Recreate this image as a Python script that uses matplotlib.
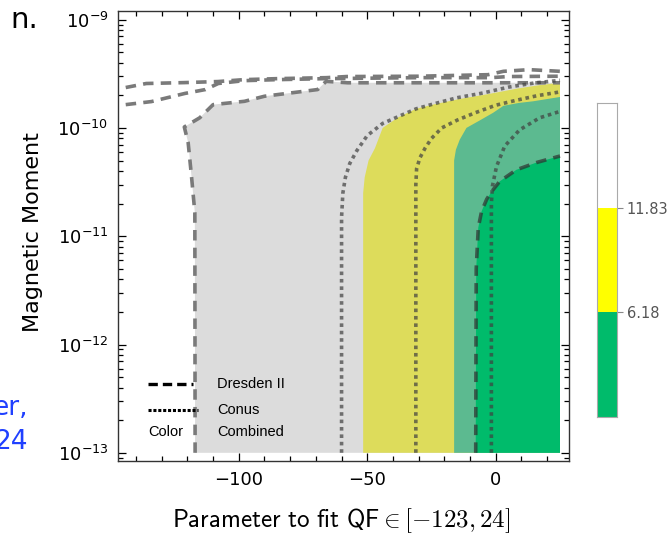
import numpy as np
import matplotlib
matplotlib.use("Agg")
import matplotlib.pyplot as plt
from matplotlib.ticker import MultipleLocator, LogLocator, NullFormatter

# shared range of the scan
x_max = 25.0
y_min = 1e-13

# filled regions: left/top edge of each, from the bottom up to the right
gray_x = [-117.0, -117.1, -118.4, -119.7, -121.2, -115.2, -110.0, -97.8, -90.0, -69.3, -66.0, -57.6, 25.0]
gray_y = [1e-13, 1.65e-11, 3.57e-11, 7.3e-11, 1.02e-10, 1.24e-10, 1.64e-10, 1.76e-10, 1.96e-10, 2.26e-10, 2.69e-10, 2.61e-10, 2.61e-10]

yellow_x = [-51.6, -51.6, -51.0, -49.5, -47.0, -44.0, -38.0, -31.0, -24.0, -14.0, -3.0, 8.0, 17.0, 25.0]
yellow_y = [1e-13, 2.5e-11, 3.5e-11, 5e-11, 6.5e-11, 1.0e-10, 1.25e-10, 1.5e-10, 1.65e-10, 1.85e-10, 2.05e-10, 2.3e-10, 2.48e-10, 2.61e-10]

teal_x = [-16.2, -16.2, -15.5, -14.0, -11.4, -6.0, -1.0, 3.0, 9.0, 14.5, 25.0]
teal_y = [1e-13, 5e-11, 6.3e-11, 7.8e-11, 1e-10, 1.18e-10, 1.38e-10, 1.6e-10, 1.7e-10, 1.76e-10, 1.93e-10]

green_x = [-7.8, -7.6, -6.8, -5.5, -3.5, -1.5, 1.5, 8.0, 16.0, 25.0]
green_y = [1e-13, 5e-12, 1.2e-11, 1.7e-11, 2.2e-11, 2.6e-11, 3.2e-11, 4.1e-11, 4.8e-11, 5.5e-11]

# Dresden II dashed curves in the upper left
dres_a_x = [-144, -136, -121, -108, -98, -85, -66, -58, -30, -3, 3, 13, 25]
dres_a_y = [2.36e-10, 2.57e-10, 2.62e-10, 2.68e-10, 2.79e-10, 2.85e-10, 2.91e-10, 2.98e-10, 3.0e-10, 3.1e-10, 3.33e-10, 3.45e-10, 3.33e-10]
dres_b_x = [-144, -134, -121, -113, -108, -98, -85, -66, -30, -2, 5, 25]
dres_b_y = [1.64e-10, 1.75e-10, 2.08e-10, 2.26e-10, 2.57e-10, 2.73e-10, 2.79e-10, 2.85e-10, 2.91e-10, 2.91e-10, 2.98e-10, 3.0e-10]

# Conus dotted curves
conus1_x = [-60, -60, -59.5, -58.5, -56.8, -54, -50, -44, -37, -31, -24, -15, -5, 5, 15, 25]
conus1_y = [1e-13, 1.5e-11, 2.5e-11, 3.5e-11, 4.7e-11, 6.2e-11, 8.5e-11, 1.1e-10, 1.3e-10, 1.5e-10, 1.67e-10, 1.9e-10, 2.1e-10, 2.38e-10, 2.6e-10, 2.75e-10]
conus2_x = [-31.1, -31.1, -30.8, -29.5, -27.5, -25, -21, -15, -8, 0, 8, 16, 25]
conus2_y = [1e-13, 3e-11, 4.2e-11, 5.3e-11, 6.5e-11, 8e-11, 1.0e-10, 1.18e-10, 1.38e-10, 1.62e-10, 1.8e-10, 1.98e-10, 2.15e-10]
conus3_x = [-1.7, -1.7, -1.3, 0.3, 3.5, 9.3, 17.1, 25]
conus3_y = [1e-13, 2e-11, 2.9e-11, 4.4e-11, 6.8e-11, 9.6e-11, 1.24e-10, 1.42e-10]

# colour bar
cbar_levels = [6.18, 11.83]
cbar_colors = ["#00bb6b", "#ffff00", "#ffffff"]


def region(ax, xs, ys, color):
    px = list(xs) + [x_max]
    py = list(ys) + [y_min]
    ax.fill(px, py, color=color, lw=0, zorder=1)


fig = plt.figure(figsize=(6.69, 5.35), dpi=100)
ax = fig.add_axes([0.1764, 0.1383, 0.6741, 0.8411])

region(ax, gray_x, gray_y, "#dcdcdc")
region(ax, yellow_x, yellow_y, "#dddc5b")
region(ax, teal_x, teal_y, "#5cba90")
region(ax, green_x, green_y, "#00bb6b")

dash = (2.9, 2.0)
dot = (1.0, 1.05)
lw = 2.6
ax.plot(dres_a_x, dres_a_y, color="#7a7a7a", lw=lw, dashes=dash, zorder=3)
ax.plot(dres_b_x, dres_b_y, color="#7a7a7a", lw=lw, dashes=dash, zorder=3)
ax.plot(gray_x, gray_y, color="#7a7a7a", lw=lw, dashes=dash, zorder=3)
ax.plot(green_x, green_y, color="#303030", alpha=0.7, lw=lw, dashes=dash, zorder=3)

for cx, cy in [(conus1_x, conus1_y), (conus2_x, conus2_y), (conus3_x, conus3_y)]:
    ax.plot(cx, cy, color="#404040", alpha=0.7, lw=2.6, dashes=dot, zorder=3)

ax.set_yscale("log")
ax.set_xlim(-147, 28.5)
ax.set_ylim(8.4e-14, 1.2e-9)

ax.xaxis.set_major_locator(MultipleLocator(50))
ax.xaxis.set_minor_locator(MultipleLocator(10))
ax.yaxis.set_major_locator(LogLocator(base=10, numticks=10))
ax.yaxis.set_minor_locator(LogLocator(base=10, subs=np.arange(2, 10), numticks=10))
ax.yaxis.set_minor_formatter(NullFormatter())
ax.tick_params(which="both", direction="in", top=True, right=True, width=0.9)
ax.tick_params(which="major", length=6, labelsize=13, pad=7)
ax.tick_params(which="minor", length=3.5)
ax.set_xticklabels(["\u2212100" if t == -100 else "\u221250" if t == -50 else "0" if t == 0 else "" for t in ax.get_xticks()])
for s in ax.spines.values():
    s.set_linewidth(1.0)
    s.set_color("#333333")

# legend drawn inside the panel
ax.plot([0.066, 0.166], [0.171, 0.171], transform=ax.transAxes, color="black", lw=2.4, dashes=(2.8, 1.5), zorder=5)
ax.plot([0.066, 0.178], [0.113, 0.113], transform=ax.transAxes, color="black", lw=2.2, dashes=(1.0, 0.6), zorder=5)
ax.text(0.219, 0.171, "Dresden II", transform=ax.transAxes, va="center", fontsize=10.5, family="Liberation Sans", zorder=5)
ax.text(0.219, 0.113, "Conus", transform=ax.transAxes, va="center", fontsize=10.5, family="Liberation Sans", zorder=5)
ax.text(0.066, 0.064, "Color", transform=ax.transAxes, va="center", fontsize=10.5, family="Liberation Sans", zorder=5)
ax.text(0.219, 0.064, "Combined", transform=ax.transAxes, va="center", fontsize=10.5, family="Liberation Sans", zorder=5)

fig.text(33 / 669, 1 - 232 / 535, "Magnetic Moment", rotation=90, ha="center", va="center", fontsize=16)
fig.text(341 / 669, 1 - 527 / 535, r"$\mathsf{Parameter\ to\ fit\ QF} \in [-123, 24]$",
         ha="center", va="baseline", fontsize=18, math_fontfamily="cm")

# colour bar on the right
cax = fig.add_axes([0.8924, 0.2206, 0.0299, 0.5869])
for i, c in enumerate(cbar_colors):
    cax.bar(0, 1, bottom=i, width=1, color=c, lw=0)
cax.set_xlim(-0.5, 0.5)
cax.set_ylim(0, len(cbar_colors))
cax.set_xticks([])
cax.yaxis.tick_right()
cax.set_yticks(range(1, len(cbar_levels) + 1))
cax.set_yticklabels([f"{v:.2f}" for v in cbar_levels])
cax.tick_params(axis="y", direction="out", length=4, width=0.8, color="#888888", labelcolor="#555555", labelsize=10.5, pad=3)
for s in cax.spines.values():
    s.set_color("#aaaaaa")
    s.set_linewidth(0.8)

# fragments of neighbouring slide text
fig.text(38 / 669, 1 - 20 / 535, "n.", ha="right", va="center", fontsize=21)
fig.text(28 / 669, 1 - 408 / 535, "er,", ha="right", va="center", fontsize=19, color="#2040ff")
fig.text(28 / 669, 1 - 442 / 535, "24", ha="right", va="center", fontsize=19, color="#2040ff")

fig.savefig("out.png", dpi=100)
